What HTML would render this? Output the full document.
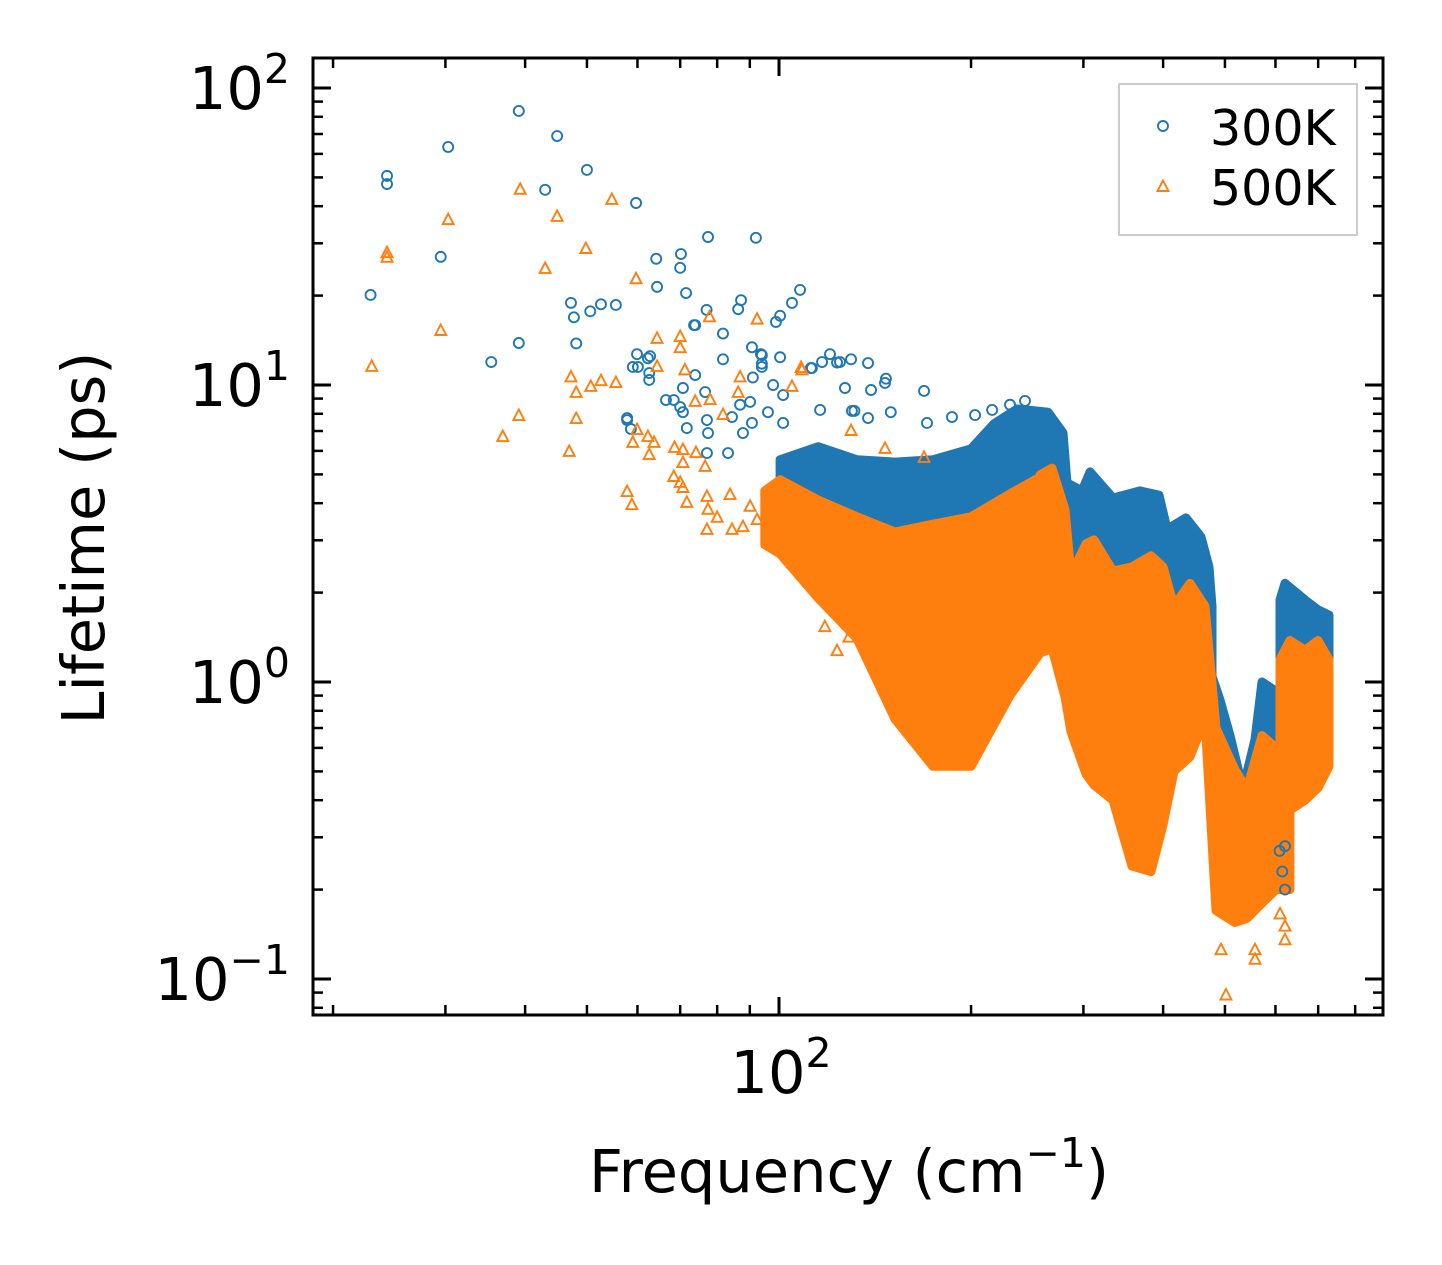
<!DOCTYPE html>
<html><head><meta charset="utf-8"><style>
html,body{margin:0;padding:0;background:#fff;}
svg{display:block;font-family:"DejaVu Sans","Liberation Sans",sans-serif;}
</style></head><body>
<svg id="chart" width="1442" height="1265" viewBox="0 0 1442 1265" xmlns="http://www.w3.org/2000/svg">
<rect width="1442" height="1265" fill="#fff"/>
<g id="bands"></g>
<g id="pts"></g>
<g id="axes"></g>
</svg>
<script>
// ---- data ----
const blueSparse = [[22.9,20.1],[24.3,50.6],[24.3,47.5],[30.3,63.3],[29.5,27.0],[35.4,11.95],[39.1,83.7],[39.1,13.85],[43.0,45.4],[44.9,68.9],[47.2,18.9],[47.7,16.9],[48.1,13.8],[50.0,53.0],[50.6,17.7],[52.6,18.7],[55.5,18.6],[59.7,41.0],[57.8,7.74],[58.6,7.11],[59.9,12.7],[60.1,11.5],[62.6,10.97],[62.8,12.5],[64.2,26.6],[64.4,21.4],[66.5,8.9],[70.2,27.6],[70.0,24.8],[71.5,20.4],[73.6,15.9],[77.4,31.5],[77.0,17.9],[86.3,18.0],[87.2,19.3],[92.0,31.3],[90.7,13.4],[93.7,12.7],[94.0,11.8],[98.9,16.3],[100.4,17.1],[104.8,18.9],[107.9,20.9],[112.2,11.4],[116.8,11.95],[120.2,12.7],[124.6,11.95],[130.1,8.18],[131.3,8.18],[137.9,11.85],[146.6,10.16],
[59.0,11.5],[62.3,12.3],[62.6,10.4],[68.4,8.9],[70.0,8.43],[70.7,8.10],[70.7,9.77],[73.9,10.8],[76.6,9.47],[77.1,7.62],[77.4,6.89],[77.1,5.90],[83.2,5.90],[84.4,7.80],[86.9,8.58],[90.1,8.77],[94.0,11.5],[100.4,12.4],[94.0,12.6],[91.0,10.6],[97.9,10.0],[101.5,9.25],[112.6,11.4],[81.7,14.9],[81.7,12.2],[73.9,15.9],[57.8,7.62],[71.7,7.16],[87.8,6.89],[90.7,7.45],[96.1,8.10],[101.5,7.45],
[129.7,12.2],[123.3,11.9],[147.1,10.5],[168.8,9.55],[126.9,9.77],[139.4,9.62],[202.9,7.92],[186.7,7.80],[243,8.84],[230.2,8.58],[215.8,8.24],[170.6,7.45],[149.7,8.10],[137.9,7.74],[116,8.24],
[621,0.2],[615,0.23],[621,0.28],[609,0.27]];
const orangeSparse = [[23.0,11.5],[24.3,27.8],[24.3,26.8],[30.3,35.9],[29.5,15.2],[39.3,45.4],[36.9,6.68],[39.1,7.86],[43.0,24.6],[44.9,36.8],[49.8,28.7],[54.7,42.0],[59.7,22.7],[46.9,5.95],[48.1,7.68],[48.1,9.4],[47.2,10.6],[50.7,9.85],[52.6,10.3],[55.5,10.15],[57.8,4.36],[58.8,3.94],[59.0,6.38],[59.9,7.05],[62.3,6.68],[63.7,6.38],[62.6,5.81],[68.4,4.90],[70.0,4.68],[70.7,4.50],[71.7,4.01],[68.6,6.14],[70.7,6.04],[74.1,5.90],[70.7,5.46],[76.6,5.30],[64.4,14.3],[70.0,14.5],[70.0,13.3],[64.4,11.5],[71.2,11.2],[73.9,8.77],[78.0,8.9],[77.8,16.9],[81.7,7.92],[86.9,10.6],[86.3,9.4],[92.4,16.6],[104.8,9.85],[108.6,11.2],[77.1,4.20],[77.4,3.80],[77.1,3.25],[83.8,4.26],[84.4,3.25],[87.8,3.32],[90.1,3.89],[92.4,3.51],[80.0,3.57],
[108.3,11.4],[129.7,7.0],[146.6,6.09],[168.8,5.68],[118,1.53],[123.3,1.27],[128.7,1.41],
[501.8,0.088],[557.3,0.116],[557.3,0.125],[621,0.135],[621,0.15],[493,0.125],[610,0.165]];
// dense bands: freq, upper, lower
const blueBand1F = [100.4,115.1,132.5,152.0,174.3,200.0,217.3,236.1,264.1,278.7,282.8,298.5,307.3,333.8,368.0,394.1,405.7,434.4,458.6,472.1,477.2];
const blueBand1Hi = [5.6,6.2,5.6,5.5,5.6,6.1,7.4,8.3,8.1,6.9,4.68,4.40,5.10,4.16,4.40,4.26,3.27,3.57,3.08,2.44,1.80];
const blueBand1Lo = [3.25,2.58,2.20,2.04,2.20,2.38,2.58,3.01,3.25,2.58,1.62,1.89,1.89,1.62,1.62,1.75,1.62,1.62,1.38,1.02,0.94];
const blueBand2F = [472.1,491.2,509.3,533.7,557.3,571.5,596.8,621];
const blueBand2Hi = [1.12,0.87,0.66,0.436,0.64,1.0,0.94,0.468];
const blueBand2Lo = [0.546,0.40,0.318,0.294,0.318,0.40,0.468,0.343];
const blueBand3F = [609.9,621,667.5,699.5,727.8];
const blueBand3Hi = [1.89,2.15,1.89,1.75,1.68];
const blueBand3Lo = [0.87,0.745,0.94,0.87,0.745];
const orBand1F = [95,100.4,115.1,132.5,152.0,174.3,200.0,230.2,256.6,267.9];
const orBand1Hi = [4.4,4.8,4.1,3.6,3.2,3.4,3.6,4.30,4.9,5.1];
const orBand1Lo = [2.9,2.7,1.92,1.40,0.75,0.52,0.52,0.90,1.25,1.30];
const orBand2F = [256.6,267.9,280.7,286.9,302.8,311.7,333.8,357.5,382.9,399.8,416.0,440.8,465.3,484.2,518.5,541.4,571.5,601.2,632.2];
const orBand2Hi = [4.98,5.25,3.80,2.29,2.92,3.01,2.36,2.44,2.66,2.44,1.80,2.15,1.80,0.70,0.506,0.436,0.66,0.60,0.40];
const orBand2Lo = [1.30,1.30,0.89,0.68,0.49,0.45,0.40,0.24,0.23,0.33,0.50,0.56,0.75,0.17,0.155,0.16,0.18,0.20,0.20];
const orBand3F = [609.9,632.2,667.5,699.5,727.8];
const orBand3Hi = [1.19,1.38,1.28,1.38,1.19];
const orBand3Lo = [0.433,0.37,0.40,0.44,0.52];
const yMajor = [0.1,1,10,100];
const yMajorExp = ["−1","0","1","2"];
const xMajor = [100];
const xMajorExp = ["2"];

// ---- axes ----
const L=313,R=1383,T=58,B=1015;
const X = f => 779 + 638*Math.log10(f/100);
const Y = v => 682 - 297*Math.log10(v);
const NS="http://www.w3.org/2000/svg";
const C1="#1f77b4", C2="#ff7f0e";
function mk(tag, attrs, parent){const e=document.createElementNS(NS,tag);for(const k in attrs)e.setAttribute(k,attrs[k]);parent.appendChild(e);return e;}
const bands=document.getElementById('bands'), pts=document.getElementById('pts'), axes=document.getElementById('axes');

function band(F,Hi,Lo,col,name){
  let p=[];
  for(let i=0;i<F.length;i++)p.push(X(F[i]).toFixed(1)+','+Y(Hi[i]).toFixed(1));
  for(let i=F.length-1;i>=0;i--)p.push(X(F[i]).toFixed(1)+','+Y(Lo[i]).toFixed(1));
  const e=mk('polygon',{points:p.join(' '),fill:col,stroke:col,'stroke-width':9,'stroke-linejoin':'round'},bands);
  
  
}
band(blueBand1F,blueBand1Hi,blueBand1Lo,C1,'band-300k-low');
band(blueBand2F,blueBand2Hi,blueBand2Lo,C1,'band-300k-mid');
band(blueBand3F,blueBand3Hi,blueBand3Lo,C1,'band-300k-high');
band(orBand1F,orBand1Hi,orBand1Lo,C2,'band-500k-low');
band(orBand2F,orBand2Hi,orBand2Lo,C2,'band-500k-mid');
band(orBand3F,orBand3Hi,orBand3Lo,C2,'band-500k-high');

function circ(x,y,parent){return mk('circle',{cx:x,cy:y,r:5,fill:'none',stroke:C1,'stroke-width':1.9},parent);}
function tri(x,y,parent){return mk('polygon',{points:`${x},${y-6.5} ${x-5.5},${y+4} ${x+5.5},${y+4}`,fill:'none',stroke:C2,'stroke-width':1.9,'stroke-linejoin':'miter'},parent);}
blueSparse.forEach(d=>{const e=circ(X(d[0]),Y(d[1]),pts);
  
  });
orangeSparse.forEach(d=>{const e=tri(X(d[0]),Y(d[1]),pts);
  
  });

// frame
const fr=mk('rect',{x:L,y:T,width:R-L,height:B-T,fill:'none',stroke:'#000','stroke-width':3},axes);


function line(x1,y1,x2,y2,w){return mk('line',{x1,y1,x2,y2,stroke:'#000','stroke-width':w},axes);}
for(let d=-2; d<=2; d++){
  for(let m=1;m<=9;m++){
    const v=m*Math.pow(10,d), y=Y(v);
    if(y<T||y>B)continue;
    const len=m===1?18:10, w=m===1?3:2.5;
    line(L,y,L+len,y,w); line(R,y,R-len,y,w);
  }
}
for(let d=1; d<=2; d++){
  for(let m=1;m<=9;m++){
    const v=m*Math.pow(10,d), x=X(v);
    if(x<L||x>R)continue;
    const len=m===1&&d===2?18:10, w=m===1?3:2.5;
    line(x,B,x,B-len,w); line(x,T,x,T+len,w);
  }
}
yMajor.forEach((v,i)=>{
  const t=mk('text',{x:290,y:Y(v)+21,'text-anchor':'end','font-size':59,fill:'#000'},axes);
  
  
  t.innerHTML='10<tspan dy="-26" font-size="41">'+yMajorExp[i]+'</tspan>';
});
xMajor.forEach((v,i)=>{
  const t=mk('text',{x:X(v)+2,y:1093,'text-anchor':'middle','font-size':59,fill:'#000'},axes);
  
  
  t.innerHTML='10<tspan dy="-26" font-size="41">'+xMajorExp[i]+'</tspan>';
});
const xt=mk('text',{x:849,y:1192,'text-anchor':'middle','font-size':59,fill:'#000'},axes);


xt.innerHTML='Frequency (cm<tspan dy="-25" font-size="41">−1</tspan><tspan dy="25">)</tspan>';
const yt=mk('text',{x:0,y:0,'text-anchor':'middle','font-size':59,fill:'#000',transform:'translate(104,538) rotate(-90)'},axes);


yt.textContent='Lifetime (ps)';

// legend
const lg=mk('g',{},axes);


mk('rect',{x:1119,y:84,width:238,height:151,fill:'#fff',stroke:'#ccc','stroke-width':2},lg);
circ(1163,126,lg);
tri(1163,187,lg);
const l1=mk('text',{x:1210,y:145,'font-size':49,fill:'#000'},lg);


l1.textContent='300K';
const l2=mk('text',{x:1210,y:205,'font-size':49,fill:'#000'},lg);


l2.textContent='500K';
</script>
</body></html>
